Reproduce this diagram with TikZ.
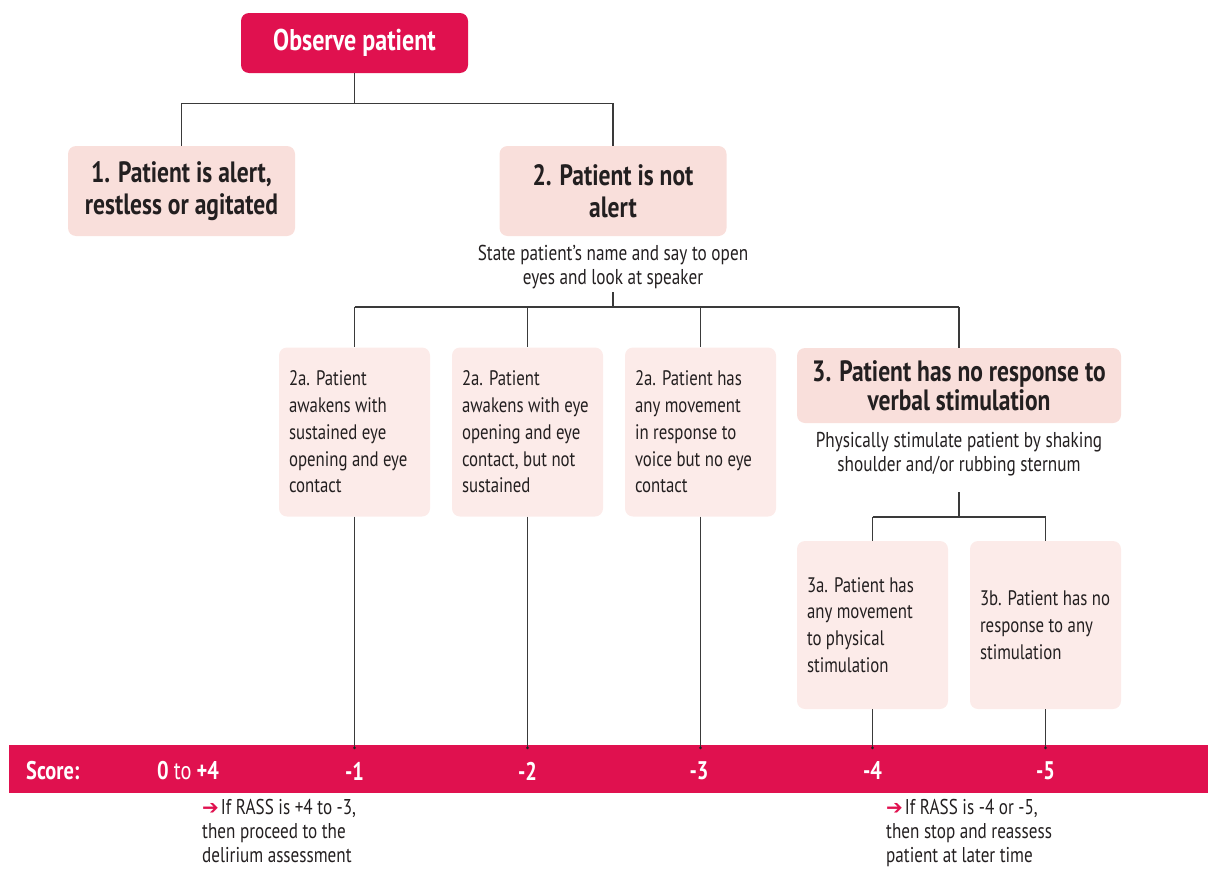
\documentclass[tikz,border=0pt]{standalone}
\usepackage{fontspec}
\setmainfont[FakeStretch=0.8]{PT Sans}
\newfontfamily\symfont{DejaVu Sans}
\definecolor{crim}{HTML}{E0114F}
\definecolor{pinkA}{HTML}{F9DFDB}
\definecolor{pinkB}{HTML}{FCEBE9}
\definecolor{lin}{HTML}{3A3A3A}
\definecolor{txt}{HTML}{231F20}
\begin{document}
\begin{tikzpicture}[x=1pt,y=-1pt,
  topbox/.style={fill=crim, rounded corners=8pt, text=white, inner sep=0pt,
    font=\bfseries\fontsize{30}{34}\selectfont, minimum width=227pt, minimum height=60pt},
  mainbox/.style={fill=pinkA, rounded corners=8pt, text=txt, inner sep=0pt, align=center,
    font=\bfseries\fontsize{29.4}{32}\selectfont, minimum width=227pt, minimum height=90pt},
  subbox/.style={fill=pinkB, rounded corners=8pt, text=txt, inner xsep=10pt, inner ysep=0pt,
    text width=131pt, align=flush left, font=\fontsize{21}{26.7}\selectfont,
    minimum height=169pt},
  lowbox/.style={subbox, minimum height=168pt},
  note/.style={text=txt, align=center, inner sep=0pt, font=\fontsize{21.5}{24}\selectfont},
  conn/.style={draw=lin, line width=1.2pt},
  bar/.style={fill=crim, inner sep=0pt, minimum width=1199pt, minimum height=48pt},
  score/.style={text=white, inner sep=0pt, font=\bfseries\fontsize{25.5}{28}\selectfont},
  foot/.style={text=txt, align=left, inner sep=0pt, font=\fontsize{21.4}{24}\selectfont, anchor=north west}
]
\useasboundingbox (0,0) rectangle (1208,870);

\node[topbox] (obs) at (354.5,43) {\raisebox{-2pt}{Observe patient}};
\node[mainbox] (b1) at (181.5,191) {1. Patient is alert,\\restless or agitated};
\node[mainbox] (b2) at (613,191) {2. Patient is not\\alert};
\node[note] (s2) at (613,267) {State patient’s name and say to open\\eyes and look at speaker};

\node[subbox] (a1) at (354.5,432) {2a. Patient\\awakens with\\sustained eye\\opening and eye\\contact};
\node[subbox] (a2) at (527.5,432) {2a. Patient\\awakens with eye\\opening and eye\\contact, but not\\sustained};
\node[subbox] (a3) at (700.5,432) {2a. Patient has\\any movement\\in response to\\voice but no eye\\contact};
\node[mainbox, minimum width=324pt, minimum height=75pt, font=\bfseries\fontsize{29.4}{29}\selectfont] (b3) at (959,385.5) {3. Patient has no response to\\verbal stimulation};
\node[note] (s3) at (959,454) {Physically stimulate patient by shaking\\shoulder and/or rubbing sternum};

\node[lowbox] (c1) at (872.5,625) {3a. Patient has\\any movement\\to physical\\stimulation};
\node[lowbox] (c2) at (1045.5,625) {3b. Patient has no\\response to any\\stimulation};

\node[bar] (bar) at (608.5,769) {};
\node[score, anchor=west] (sc) at (26,771) {Score:};
\node[score] (s0) at (188,771) {0 {\mdseries to} +4};
\node[score] (s1) at (354.5,771) {-1};
\node[score] (sm2) at (527.5,771) {-2};
\node[score] (sm3) at (699,771) {-3};
\node[score] (sm4) at (872.5,771) {-4};
\node[score] (sm5) at (1045.5,771) {-5};

\node[foot] (f1) at (202,799) {{\symfont\bfseries\color{crim}\fontsize{20}{20}\selectfont ➔}\kern2pt If RASS is +4 to -3,\\then proceed to the\\delirium assessment};
\node[foot] (f2) at (886,799) {{\symfont\bfseries\color{crim}\fontsize{20}{20}\selectfont ➔}\kern2pt If RASS is -4 or -5,\\then stop and reassess\\patient at later time};

% connectors
\draw[conn] (obs.south) -- ++(0,30) -| (b1.north);
\draw[conn] (obs.south) ++(0,30) -| (b2.north);

\draw[conn] (s2.south) ++(0,3) -- ++(0,15) coordinate (j2);
\draw[conn] (j2 -| a1.north) -- (j2 -| b3.north);
\foreach \n in {a1,a2,a3,b3} \draw[conn] (j2 -| \n.north) -- (\n.north);

\draw[conn] (s3.south) ++(0,16) -- ++(0,25) coordinate (j3);
\draw[conn] (j3 -| c1.north) -- (j3 -| c2.north);
\foreach \n in {c1,c2} \draw[conn] (j3 -| \n.north) -- (\n.north);

\foreach \n in {a1,a2,a3,c1,c2} {
  \draw[conn] (\n.south) -- ([yshift=-3pt]bar.north -| \n.south);
  \fill[txt] ([yshift=-3pt]bar.north -| \n.south) circle (1.5pt);
}
\end{tikzpicture}
\end{document}
